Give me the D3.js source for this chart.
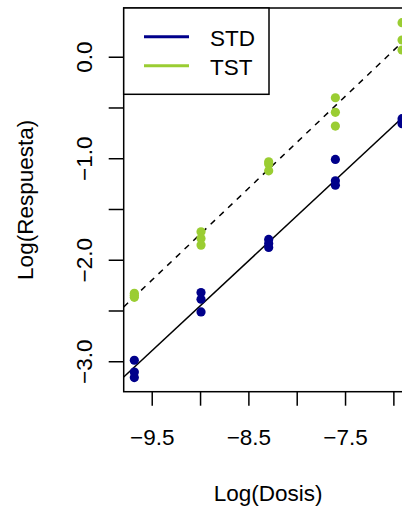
<!DOCTYPE html>
<html><head><meta charset="utf-8">
<script src="https://cdn.jsdelivr.net/npm/d3@7"></script>
<style>
html,body{margin:0;padding:0;background:#fff;}
svg{display:block;font-family:"Liberation Sans",Arial,Helvetica,sans-serif;}
</style>
</head><body>
<svg id="c" width="402" height="512"></svg>
<script>
// ---- data ----
const logDosis = [-9.68, -8.99, -8.29, -7.60, -6.91];
const stdValues = [[-2.99,-3.106,-3.161],[-2.323,-2.389,-2.514],[-1.80,-1.84,-1.879],[-1.012,-1.222,-1.265],[-0.61,-0.64,-0.66]];
const tstValues = [[-2.33,-2.35,-2.37],[-1.725,-1.79,-1.856],[-1.035,-1.058,-1.124],[-0.404,-0.548,-0.683],[0.335,0.165,0.066]];
const fitIntercepts = [5.519, 6.395];   // STD, TST
const fitSlopes = [0.886, 0.905];
const seriesNames = ["STD", "TST"];
const seriesColors = ["#00008B", "#9ACD32"];
const xTicks = [-9.5, -9, -8.5, -8, -7.5, -7];
const xTickLabels = ["−9.5", "", "−8.5", "", "−7.5", ""];
const yTicks = [-3, -2.5, -2, -1.5, -1, -0.5, 0];
const yTickLabels = ["−3.0", "", "−2.0", "", "−1.0", "", "0.0"];
const xTitle = "Log(Dosis)";
const yTitle = "Log(Respuesta)";

// ---- layout ----
const L = 123.7, R = 412.7, T = 8, B = 391.7;
const x = d3.scaleLinear().domain([-9.79, -6.80]).range([L, R]);
const y = d3.scaleLinear().domain([-3.30, 0.48]).range([B, T]);
const svg = d3.select("#c");
const fs = 22.5;

// clip
svg.append("defs").append("clipPath").attr("id","clip")
  .append("rect").attr("x",L).attr("y",T).attr("width",R-L).attr("height",B-T);

const plot = svg.append("g").attr("clip-path","url(#clip)");

// fit lines
[0,1].forEach(i=>{
  const xs = x.domain();
  plot.append("line")
    .attr("x1", x(xs[0])).attr("y1", y(fitIntercepts[i] + fitSlopes[i]*xs[0]))
    .attr("x2", x(xs[1])).attr("y2", y(fitIntercepts[i] + fitSlopes[i]*xs[1]))
    .attr("stroke","#000").attr("stroke-width",1.5)
    .attr("stroke-dasharray", i===1 ? "6,6" : null);
});

// points
[stdValues, tstValues].forEach((vals,i)=>{
  const pts = [];
  vals.forEach((arr,j)=>arr.forEach(v=>pts.push([logDosis[j], v])));
  plot.selectAll(null).data(pts).enter().append("circle")
    .attr("cx", d=>x(d[0])).attr("cy", d=>y(d[1])).attr("r", 4.6)
    .attr("fill", seriesColors[i]);
});

// box
svg.append("rect").attr("x",L).attr("y",T).attr("width",R-L).attr("height",B-T)
  .attr("fill","none").attr("stroke","#000").attr("stroke-width",1.5);

// x axis
const xa = svg.append("g").attr("transform",`translate(0,${B})`)
  .call(d3.axisBottom(x).tickValues(xTicks).tickSize(14).tickPadding(0)
    .tickFormat((d,i)=>xTickLabels[i]));
xa.select(".domain").remove();
xa.selectAll(".tick line").attr("stroke","#000").attr("stroke-width",1.5);
xa.selectAll(".tick text").attr("font-size",fs).attr("font-family","Liberation Sans, Arial, sans-serif")
  .attr("fill","#000").attr("dy",null).attr("y",53);

// y axis
const ya = svg.append("g").attr("transform",`translate(${L},0)`)
  .call(d3.axisLeft(y).tickValues(yTicks).tickSize(15).tickPadding(0)
    .tickFormat((d,i)=>yTickLabels[i]));
ya.select(".domain").remove();
ya.selectAll(".tick line").attr("stroke","#000").attr("stroke-width",1.5);
ya.selectAll(".tick text").attr("font-size",fs).attr("font-family","Liberation Sans, Arial, sans-serif")
  .attr("fill","#000").attr("x",null).attr("dy",null)
  .attr("text-anchor","middle")
  .attr("transform","translate(-32,0) rotate(-90)");

// titles
svg.append("text").attr("x",(L+R)/2).attr("y",501).attr("text-anchor","middle")
  .attr("font-size",fs).text(xTitle);
svg.append("text").attr("transform",`translate(33,${(T+B)/2}) rotate(-90)`)
  .attr("text-anchor","middle").attr("font-size",fs).text(yTitle);

// legend
const lg = svg.append("g");
lg.append("rect").attr("x",L).attr("y",T).attr("width",269-L).attr("height",94.3-T)
  .attr("fill","#fff").attr("stroke","#000").attr("stroke-width",1.5);
seriesNames.forEach((n,i)=>{
  const yy = 36.7 + i*29;
  lg.append("line").attr("x1",144).attr("x2",189).attr("y1",yy).attr("y2",yy)
    .attr("stroke",seriesColors[i]).attr("stroke-width",3);
  lg.append("text").attr("x",210).attr("y",yy+9).attr("font-size",fs).text(n);
});
</script>
</body></html>
